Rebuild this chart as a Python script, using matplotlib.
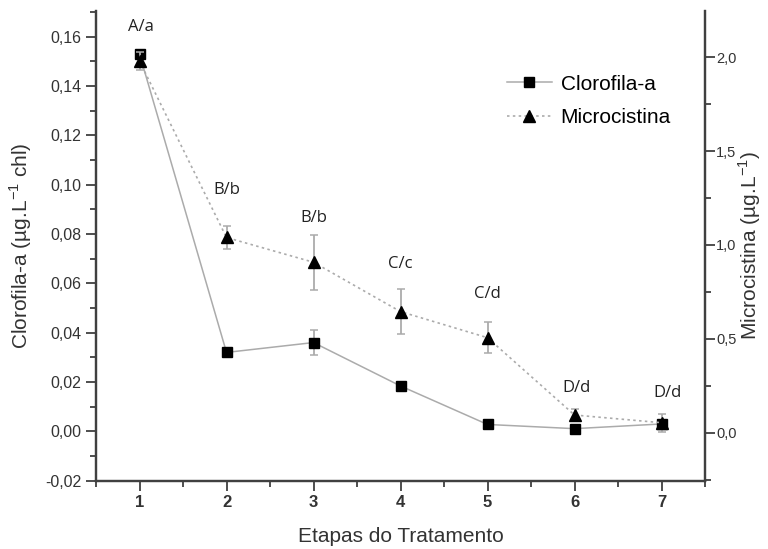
import matplotlib.pyplot as plt
from matplotlib.ticker import MultipleLocator, FuncFormatter
from matplotlib.lines import Line2D

# dados
etapas = [1, 2, 3, 4, 5, 6, 7]
clorofila = [0.153, 0.032, 0.036, 0.0184, 0.0028, 0.0011, 0.003]
clorofila_err = [0.001, 0.0005, 0.005, 0.001, 0.001, 0.0005, 0.001]
microcistina = [1.98, 1.04, 0.908, 0.645, 0.506, 0.094, 0.053]
microcistina_err = [0.05, 0.062, 0.147, 0.12, 0.082, 0.03, 0.049]

letras = ["A/a", "B/b", "B/b", "C/c", "C/d", "D/d", "D/d"]
letras_x = [1.02, 2.0, 3.0, 4.0, 5.0, 6.02, 7.07]
letras_y = [0.1638, 0.0978, 0.0864, 0.0677, 0.0556, 0.0174, 0.0156]

plt.rcParams['font.family'] = ['Liberation Sans', 'DejaVu Sans']

fig = plt.figure(figsize=(7.68, 5.49), dpi=100)
ax = fig.add_axes([0.125, 0.1244, 0.793, 0.8556])
ax2 = ax.twinx()

cinza = '#ababab'
eixo = '#404040'
texto = '#333333'

ax.errorbar(etapas, clorofila, yerr=clorofila_err, color=cinza, lw=1.1,
            marker='s', ms=6.5, mfc='black', mec='black', ecolor=cinza,
            elinewidth=1.3, capsize=3, capthick=1.1, zorder=3)
ax2.errorbar(etapas, microcistina, yerr=microcistina_err, color=cinza, lw=1.2,
             ls=(0, (1.5, 2)), marker='^', ms=8.5, mfc='black', mec='black',
             ecolor=cinza, elinewidth=1.3, capsize=3, capthick=1.1, zorder=3)

for lx, ly, t in zip(letras_x, letras_y, letras):
    ax.text(lx, ly, t, ha='center', va='center', fontsize=12,
            family=['Open Sans', 'DejaVu Sans'], color='#222222')

ax.set_xlim(0.5, 7.5)
ax.set_ylim(-0.02, 0.1704)
ax2.set_ylim(-0.256, 2.247)

ax.xaxis.set_major_locator(MultipleLocator(1))
ax.xaxis.set_minor_locator(MultipleLocator(0.5))
ax.yaxis.set_major_locator(MultipleLocator(0.02))
ax.yaxis.set_minor_locator(MultipleLocator(0.01))
ax2.yaxis.set_major_locator(MultipleLocator(0.5))
ax2.yaxis.set_minor_locator(MultipleLocator(0.25))

ax.yaxis.set_major_formatter(FuncFormatter(lambda v, p: f"{v:.2f}".replace('.', ',').replace('-0,00', '0,00')))
ax2.yaxis.set_major_formatter(FuncFormatter(lambda v, p: f"{v:.1f}".replace('.', ',').replace('-0,0', '0,0')))

for a in (ax, ax2):
    a.spines['top'].set_visible(False)
    for s in a.spines.values():
        s.set_color(eixo)
        s.set_linewidth(1.6)
    a.tick_params(which='major', length=7, width=1.3, color=eixo, labelcolor=texto)
    a.tick_params(which='minor', length=4, width=1.3, color=eixo)

ax.tick_params(axis='y', labelsize=11.5)
ax.tick_params(axis='x', labelsize=12)
ax2.tick_params(axis='y', labelsize=10.5, pad=1)
for lab in ax.get_xticklabels():
    lab.set_fontweight('bold')

ax.set_xlabel("Etapas do Tratamento", fontsize=15, color=texto, labelpad=12)
ax.set_ylabel("Clorofila-a (µg.L$^{\\mathregular{-1}}$ chl)", fontsize=15, color=texto, labelpad=8)
ax2.set_ylabel("Microcistina (µg.L$^{\\mathregular{-1}}$)", fontsize=15, color=texto, labelpad=0)

handles = [
    Line2D([], [], color=cinza, lw=1.1, marker='s', ms=6.5, mfc='black', mec='black'),
    Line2D([], [], color=cinza, lw=1.2, ls=(0, (1.5, 2)), marker='^', ms=8.5,
           mfc='black', mec='black'),
]
ax2.legend(handles, ["Clorofila-a", "Microcistina"], loc='upper left',
           bbox_to_anchor=(0.646, 0.883), bbox_transform=fig.transFigure,
           frameon=False, fontsize=15, handlelength=2.2, handletextpad=0.4,
           labelspacing=0.7, borderpad=0)

fig.savefig("out.png", dpi=100)
